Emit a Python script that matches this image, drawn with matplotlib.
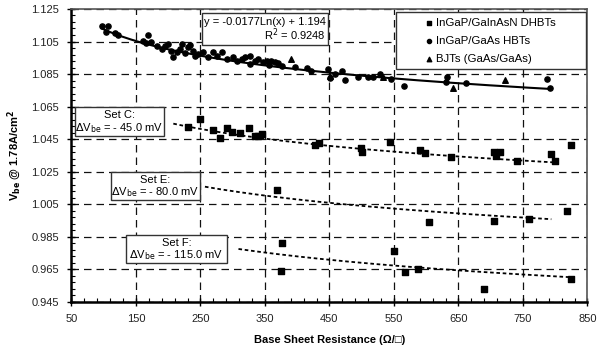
import numpy as np
import matplotlib.pyplot as plt
from matplotlib.patches import Rectangle
from matplotlib.ticker import FixedLocator, FormatStrFormatter

plt.rcParams['font.family'] = ['Liberation Sans', 'DejaVu Sans']

# -----------------------------------------------------------------------
# Data
# -----------------------------------------------------------------------
# InGaP/GaAs HBTs (circles)
hbt_x = [98, 107, 103, 117, 123, 161, 169, 165, 174, 182, 190, 195, 200, 205,
         208, 213, 218, 221, 226, 230, 234, 238, 241, 247, 254, 262, 270, 275,
         284, 291, 301, 306, 314, 319, 327, 327, 334, 340, 347, 353, 357, 360,
         366, 371, 376, 397, 415, 422, 448, 451, 458, 469, 474, 495, 510, 518,
         528, 546, 565, 632, 630, 661, 788, 792]
hbt_y = [1.1144, 1.1148, 1.1107, 1.1101, 1.1092, 1.1055, 1.1090, 1.1039,
         1.1045, 1.1024, 1.1004, 1.1024, 1.1035, 1.0993, 1.0952, 1.0983,
         1.1004, 1.1035, 1.0977, 1.1014, 1.1028, 1.0993, 1.0962, 1.0973,
         1.0983, 1.0952, 1.0987, 1.0962, 1.0987, 1.0942, 1.0952, 1.0931,
         1.0942, 1.0952, 1.0958, 1.0911, 1.0931, 1.0942, 1.0922, 1.0931,
         1.0907, 1.0931, 1.0925, 1.0915, 1.0901, 1.0891, 1.0886, 1.0870,
         1.0884, 1.0825, 1.0849, 1.0870, 1.0812, 1.0829, 1.0829, 1.0829,
         1.0849, 1.0819, 1.0777, 1.0829, 1.0802, 1.0798, 1.0819, 1.0767]

# BJTs (GaAs/GaAs) (triangles)
bjt_x = [390, 451, 533, 642, 722]
bjt_y = [1.0944, 1.0837, 1.0833, 1.0767, 1.0812]

# InGaP/GaInAsN DHBTs (squares), sets C, E, F
dhbt_x = [231, 249, 270, 281, 292, 299, 311, 325, 334, 340, 345, 428, 434,
          499, 500, 544, 591, 598, 638, 705, 714, 708, 741, 794, 799, 824,
          369, 605, 705, 760, 818,
          377, 375, 550, 567, 587, 690, 825]
dhbt_y = [1.0524, 1.0576, 1.0504, 1.0454, 1.0520, 1.0496, 1.0487, 1.0520,
          1.0469, 1.0469, 1.0479, 1.0411, 1.0428, 1.0394, 1.0370, 1.0431,
          1.0386, 1.0364, 1.0341, 1.0372, 1.0370, 1.0349, 1.0314, 1.0356,
          1.0314, 1.0416,
          1.0140, 0.9940, 0.9944, 0.9959, 1.0008,
          0.9812, 0.9641, 0.9763, 0.9631, 0.9650, 0.9530, 0.9590]

# logarithmic trend line y = a ln(x) + b and shifted copies
fit_a = -0.0177
fit_b = 1.194
fit_r2 = 0.9248
fit_range = (97, 792)
set_names = ['Set C:', 'Set E:', 'Set F:']
set_shift = [-0.045, -0.080, -0.115]
set_range = [(208, 800), (257, 794), (309, 828)]

x_ticks = np.arange(50, 851, 100)
y_ticks = np.arange(0.945, 1.1251, 0.02)

# -----------------------------------------------------------------------
# Plot
# -----------------------------------------------------------------------
fig = plt.figure(figsize=(6.05, 3.45), dpi=100)
ax = fig.add_axes([0.118, 0.125, 0.853, 0.849])

# pixel position in the 605x345 picture -> axes fraction
def fx(px):
    return (px - 71.5) / 516.0

def fy(py):
    return (302.0 - py) / 293.0

ax.set_xlim(50, 850)
ax.set_ylim(0.945, 1.125)
ax.xaxis.set_major_locator(FixedLocator(x_ticks))
ax.xaxis.set_minor_locator(FixedLocator(np.arange(50, 851, 20)))
ax.yaxis.set_major_locator(FixedLocator(y_ticks))
ax.yaxis.set_minor_locator(FixedLocator(np.arange(0.945, 1.1251, 0.004)))
ax.yaxis.set_major_formatter(FormatStrFormatter('%.3f'))
ax.xaxis.set_major_formatter(FormatStrFormatter('%d'))

ax.grid(True, which='major', color='#111111', linestyle=(0, (6, 4)), lw=0.9)
ax.set_axisbelow(True)

ax.tick_params(which='major', direction='inout', length=6, width=1,
               labelsize=8, labelcolor='#222222', pad=6)
ax.tick_params(which='minor', direction='in', length=3, width=0.8)
for s in ['left', 'bottom']:
    ax.spines[s].set_linewidth(1.8)
for s in ['right', 'top']:
    ax.spines[s].set_linewidth(1.2)
    ax.spines[s].set_color('#555555')

# trend lines
xf = np.linspace(fit_range[0], fit_range[1], 200)
ax.plot(xf, fit_a * np.log(xf) + fit_b, color='black', lw=1.5, zorder=3)
for shift, (x0, x1) in zip(set_shift, set_range):
    xs = np.linspace(x0, x1, 200)
    ax.plot(xs, fit_a * np.log(xs) + fit_b + shift, color='black', lw=1.3,
            linestyle=(0, (2, 1.5)), zorder=3)

ax.scatter(dhbt_x, dhbt_y, marker='s', s=14, color='black', zorder=4,
           label='InGaP/GaInAsN DHBTs')
ax.scatter(hbt_x, hbt_y, marker='o', s=14, color='black', zorder=4,
           label='InGaP/GaAs HBTs')
ax.scatter(bjt_x, bjt_y, marker='^', s=16, color='black', zorder=4,
           label='BJTs (GaAs/GaAs)')

def frame(px0, py0, px1, py1):
    r = Rectangle((fx(px0), fy(py1)), fx(px1) - fx(px0), fy(py0) - fy(py1),
                  transform=ax.transAxes, fc='white', ec='#333333', lw=1.0,
                  zorder=5)
    ax.add_patch(r)

# legend
frame(396, 12, 586, 69)
leg = ax.legend(loc='center', bbox_to_anchor=(fx(490), fy(41)), fontsize=8.2,
                frameon=False, handletextpad=0.1, markerscale=0.8,
                borderpad=0.2, labelspacing=0.71, handlelength=1.0)
leg.set_zorder(6)

# equation box
frame(202, 13, 328, 45)
ax.text(fx(204), fy(22), 'y = %.4fLn(x) + %.3f' % (fit_a, fit_b),
        transform=ax.transAxes, fontsize=8, ha='left', va='center', zorder=6)
ax.text(fx(326), fy(35), 'R$^2$ = %.4f' % fit_r2,
        transform=ax.transAxes, fontsize=8, ha='right', va='center', zorder=6)

# offset boxes
set_boxes = [(75, 107, 164, 136), (111, 172, 200, 200), (126, 235, 227, 263)]
for name, shift, (x0, y0, x1, y1) in zip(set_names, set_shift, set_boxes):
    frame(x0, y0, x1, y1)
    xc = fx((x0 + x1) / 2)
    ax.text(xc, fy(y0 + 8.5), name, transform=ax.transAxes, fontsize=8,
            ha='center', va='center', zorder=6)
    ax.text(xc, fy(y1 - 7.5), '$\\Delta$V$_{\\rm be}$ = - %.1f mV' % (abs(shift) * 1000),
            transform=ax.transAxes, fontsize=8, ha='center', va='center',
            zorder=6)

ax.set_xlabel('Base Sheet Resistance (\u03a9/\u25a1)', fontsize=8,
              fontweight='bold', labelpad=8)
ax.set_ylabel('V$_{\\mathbf{be}}$ @ 1.78A/cm$^{\\mathbf{2}}$', fontsize=8,
              fontweight='bold', labelpad=6)

fig.savefig('out.png', dpi=100)
